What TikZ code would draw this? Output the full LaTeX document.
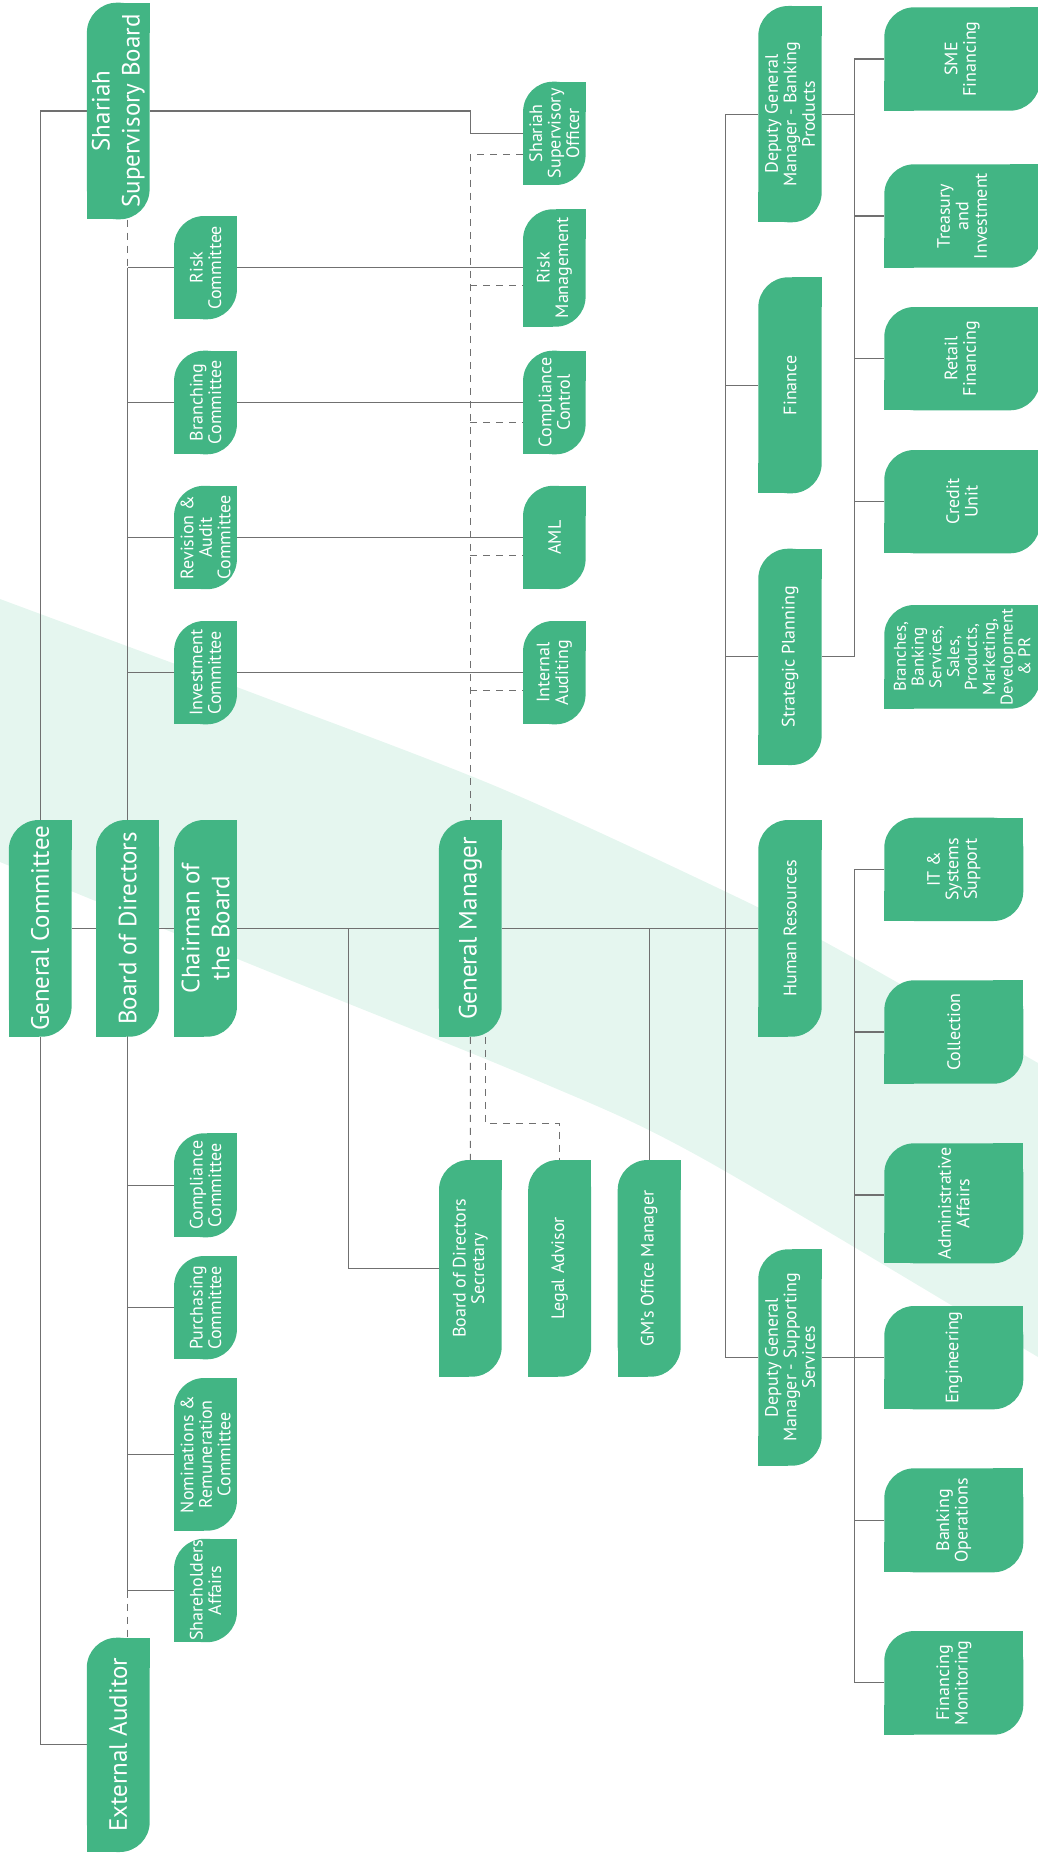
\documentclass[tikz,border=0pt]{standalone}
\usepackage{fontspec}
\setmainfont{PT Sans}
\usetikzlibrary{calc}
\definecolor{boxc}{HTML}{42B584}
\definecolor{bandc}{HTML}{E5F6EF}
\definecolor{linec}{HTML}{707070}
\pgfdeclarelayer{band}
\pgfdeclarelayer{lines}
\pgfsetlayers{band,lines,main}
\tikzset{
  ln/.style={draw=linec, line width=1.1pt},
  dsh/.style={draw=linec, line width=1.1pt, dash pattern=on 7pt off 6pt},
  txt/.style={rotate=90, align=center, text=white, inner sep=0pt},
  bigt/.style={font=\fontsize{25}{30}\selectfont},
  smt/.style={font=\fontsize{18}{18.5}\selectfont},
  brt/.style={font=\fontsize{17}{17.8}\selectfont},
}
\newcommand\orgbox[7]{%
  \fill[boxc,rounded corners=30pt] (#2,#3) rectangle (#4,#5);
  \fill[boxc] (#4-30,#3) rectangle (#4,#3+30);
  \fill[boxc] (#2,#5-30) rectangle (#2+30,#5);
  \pgfmathsetmacro\obw{#4-#2}\pgfmathsetmacro\obh{#5-#3}%
  \node[inner sep=0pt, minimum width=\obw pt, minimum height=\obh pt] (#1) at ({(#2+#4)/2},{(#3+#5)/2}) {};
  \node[txt,#6] (#1t) at (#1.center) {#7};
}
\begin{document}
\begin{tikzpicture}[x=1pt,y=-1pt]
\useasboundingbox (0,0) rectangle (1038,1854);
\clip (0,0) rectangle (1038,1854);

\begin{pgfonlayer}{band}
\fill[bandc] plot[smooth] coordinates {(-20,591) (0,599) (250,692) (500,788) (743,900) (854,958) (1038,1063) (1060,1076)}
  -- plot[smooth] coordinates {(1060,1370) (1038,1357) (700,1157) (536,1080) (250,964) (0,862) (-20,854)} -- cycle;
\end{pgfonlayer}

% top-level column
\orgbox{ssb}{86.9}{2.7}{149.6}{219.3}{bigt}{Shariah\\Supervisory Board}
\orgbox{gc}{8.8}{820}{71.6}{1036.7}{bigt}{General Committee}
\orgbox{bod}{96}{820}{159.2}{1036.7}{bigt}{Board of Directors}
\orgbox{chair}{174.1}{820}{236.9}{1036.7}{bigt}{Chairman of\\the Board}
\orgbox{gm}{438.9}{820}{501.7}{1036.7}{bigt}{General Manager}
\orgbox{ea}{86.8}{1637.7}{149.7}{1852}{bigt}{External Auditor}
% committees
\orgbox{rc}{174.1}{216}{236.9}{319.3}{smt}{Risk\\Committee}
\orgbox{bc}{174.1}{350.7}{236.9}{454.3}{smt}{Branching\\Committee}
\orgbox{rac}{174.1}{485.8}{236.9}{589.2}{smt}{Revision \&\\Audit\\Committee}
\orgbox{ic}{174.1}{621}{236.9}{724.3}{smt}{Investment\\Committee}
\orgbox{cpc}{174.1}{1133.3}{236.9}{1237.3}{smt}{Compliance\\Committee}
\orgbox{pc}{174.1}{1256}{236.9}{1359.3}{smt}{Purchasing\\Committee}
\orgbox{nrc}{174.1}{1378}{236.9}{1530.7}{smt}{Nominations \&\\Remuneration\\Committee}
\orgbox{sa}{174.1}{1538.8}{236.9}{1642.2}{smt}{Shareholders\\Affairs}
% control functions
\orgbox{sso}{523.1}{81.7}{585.6}{185}{smt}{Shariah\\Supervisory\\Officer}
\orgbox{rm}{523.1}{209.3}{585.6}{326.7}{smt}{Risk\\Management}
\orgbox{cct}{523.1}{350.7}{585.6}{454.3}{smt}{Compliance\\Control}
\orgbox{aml}{523.1}{485.8}{585.6}{589.2}{smt}{AML}
\orgbox{ia}{523.1}{621}{585.6}{724.3}{smt}{Internal\\Auditing}
% GM staff
\orgbox{bds}{439}{1160}{501.7}{1376.7}{smt}{Board of Directors\\Secretary}
\orgbox{la}{528.2}{1160}{591.2}{1376.7}{smt}{Legal Advisor}
\orgbox{gmom}{617.7}{1160}{680.7}{1376.7}{smt}{GM’s Office Manager}
% departments
\orgbox{dgmbp}{758.3}{6}{821.7}{222.3}{smt}{Deputy General\\Manager - Banking\\Products}
\orgbox{fin}{758.3}{277.3}{821.7}{493.3}{smt}{Finance}
\orgbox{sp}{758.3}{548.7}{821.7}{765}{smt}{Strategic Planning}
\orgbox{hr}{758.3}{820}{821.7}{1036.7}{smt}{Human Resources}
\orgbox{dgmss}{758.3}{1249.3}{821.7}{1465.7}{smt}{Deputy General\\Manager - Supporting\\Services}
% banking products units
\orgbox{sme}{884.3}{7.3}{1040}{110.7}{smt}{SME\\Financing}
\orgbox{ti}{884.3}{164.3}{1040}{267.7}{smt}{Treasury\\and\\Investment}
\orgbox{rf}{884.3}{307}{1040}{410.3}{smt}{Retail\\Financing}
\orgbox{cu}{884.3}{450}{1040}{553.3}{smt}{Credit\\Unit}
\orgbox{br}{884.3}{605}{1040}{708.7}{brt}{Branches,\\Banking\\Services,\\Sales,\\Products,\\Marketing,\\Development\\\& PR}
% supporting services units
\orgbox{it}{884.3}{817.7}{1023.3}{921}{smt}{IT \&\\Systems\\Support}
\orgbox{col}{884.3}{980.3}{1023.3}{1083.7}{smt}{Collection}
\orgbox{aa}{884.3}{1143.3}{1023.3}{1263.3}{smt}{Administrative\\Affairs}
\orgbox{eng}{884.3}{1306}{1023.3}{1409.3}{smt}{Engineering}
\orgbox{bo}{884.3}{1468.3}{1023.3}{1572.3}{smt}{Banking\\Operations}
\orgbox{fm}{884.3}{1631}{1023.3}{1734.7}{smt}{Financing\\Monitoring}

\coordinate (chairJ) at (348.6,928.35);
\coordinate (dspine) at (725.7,0);
\coordinate (rspine) at (854.3,0);
\coordinate (ssoD) at ([yshift=-21pt]sso.west);
\coordinate (rmD) at ([yshift=-17.5pt]rm.west);
\coordinate (cctD) at ([yshift=-20pt]cct.west);
\coordinate (amlD) at ([yshift=-18pt]aml.west);
\coordinate (iaD) at ([yshift=-18pt]ia.west);
\coordinate (gmS2) at ([xshift=15.2pt]gm.south);
\coordinate (laK) at ([yshift=36.5pt]la.north);
\coordinate (aaL) at ([yshift=8.3pt]aa.west);

\begin{pgfonlayer}{lines}
% general committee spine
\draw[ln] (ssb.west) -| (gc.north);
\draw[ln] (gc.south) |- (ea.west);
\draw[ln] (ssb.east) -| (gm.north |- sso.west) -- (sso.west);
% board spine
\draw[dsh] (ssb.south -| bod.north) -- (bod.north |- rc.west);
\draw[ln] (bod.north |- rc.west) -- (bod.north |- sa.west);
\draw[dsh] (bod.north |- sa.west) -- (bod.north |- ea.north);
\foreach \c in {rc,bc,rac,ic,cpc,pc,nrc,sa}{\draw[ln] (bod.north |- \c.west) -- (\c.west);}
% committee to function lines
\draw[ln] (rc.east) -- (rc.east -| rm.west);
\draw[ln] (bc.east) -- (bc.east -| cct.west);
\draw[ln] (rac.east) -- (rac.east -| aml.west);
\draw[ln] (ic.east) -- (ic.east -| ia.west);
% GM dotted reporting
\draw[dsh] (ssoD) -| (gm.north);
\foreach \d in {rmD,cctD,amlD,iaD}{\draw[dsh] (gm.north |- \d) -- (\d);}
\draw[dsh] (gm.south) -- (bds.north);
\draw[dsh] (gmS2) |- (laK) -- (la.north);
% main line
\draw[ln] (gc.east) -- (bod.west);
\draw[ln] (bod.east) -- (chair.west);
\draw[ln] (chair.east) -- (gm.west);
\draw[ln] (gm.east) -- (hr.west);
\draw[ln] (chairJ) |- (bds.west);
\draw[ln] (gmom.north |- gm.east) -- (gmom.north);
% departments spine
\draw[ln] (dspine |- dgmbp.west) -- (dspine |- dgmss.west);
\foreach \c in {dgmbp,fin,sp,dgmss}{\draw[ln] (dspine |- \c.west) -- (\c.west);}
% banking products spine
\draw[ln] (rspine |- sme.west) -- (rspine |- sp.east);
\draw[ln] (dgmbp.east) -- (rspine |- dgmbp.east);
\draw[ln] (sp.east) -- (rspine |- sp.east);
\foreach \c in {sme,ti,rf,cu}{\draw[ln] (rspine |- \c.west) -- (\c.west);}
% supporting services spine
\draw[ln] (rspine |- it.west) -- (rspine |- fm.west);
\draw[ln] (dgmss.east) -- (dgmss.east -| eng.west);
\foreach \c in {it,col,bo,fm}{\draw[ln] (rspine |- \c.west) -- (\c.west);}
\draw[ln] (rspine |- aaL) -- (aaL);
\end{pgfonlayer}
\end{tikzpicture}
\end{document}
